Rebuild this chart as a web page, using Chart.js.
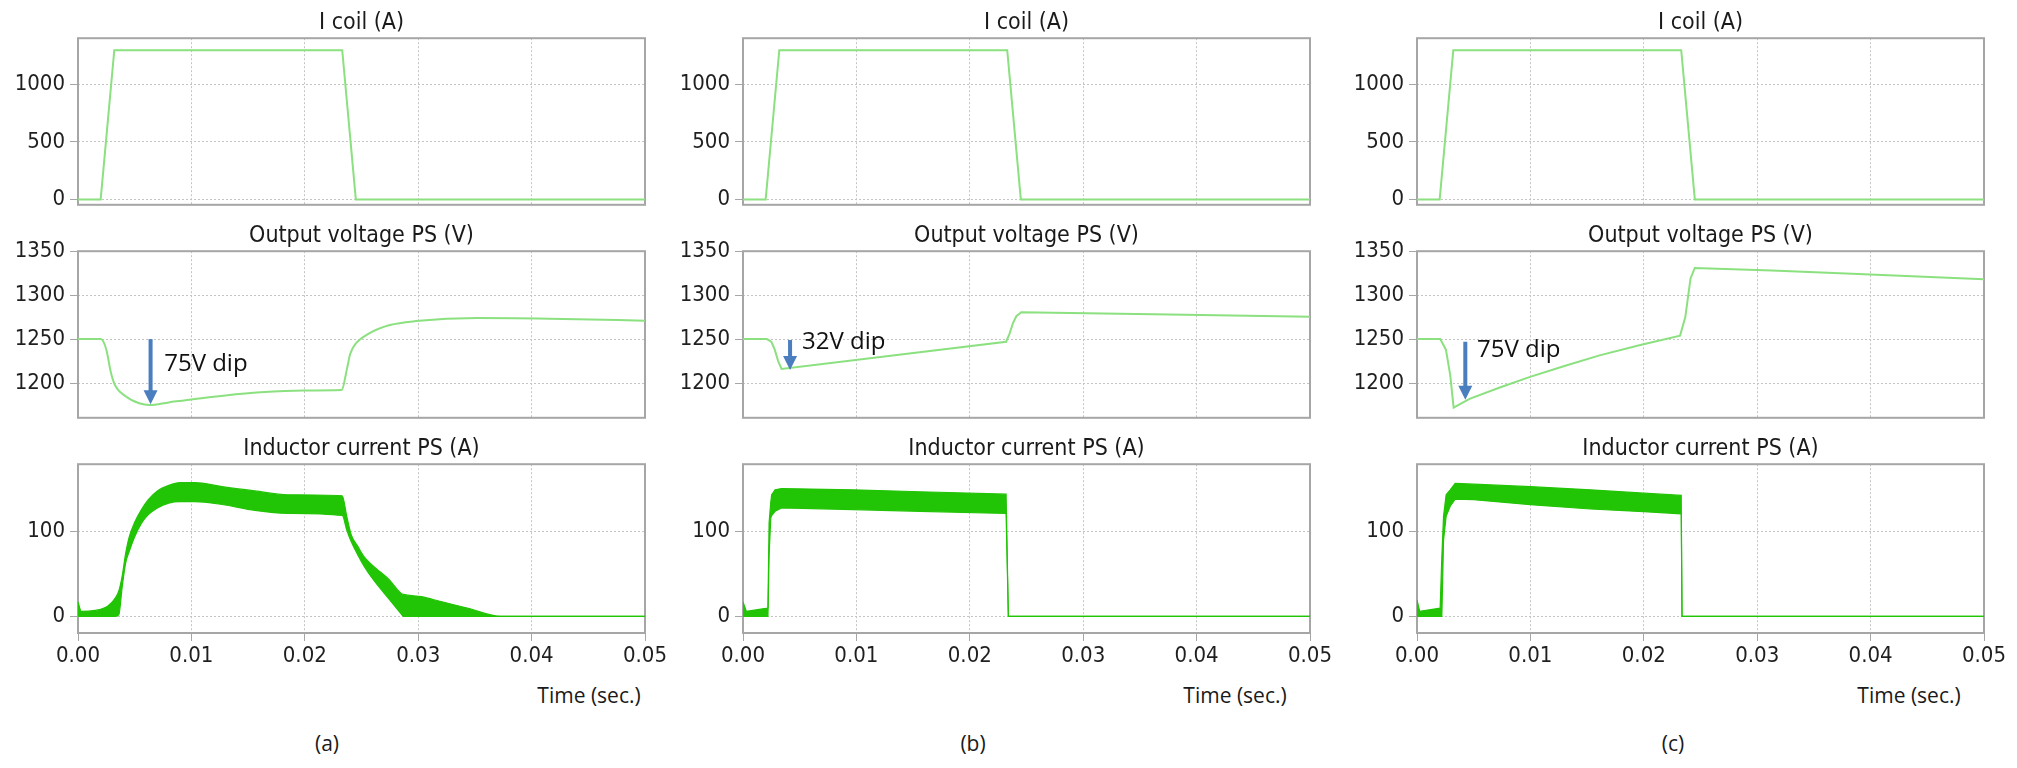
<!DOCTYPE html>
<html>
<head>
<meta charset="utf-8">
<script src="https://cdn.jsdelivr.net/npm/chart.js@4.4.1/dist/chart.umd.min.js"></script>
<style>
  html, body { margin: 0; padding: 0; background: #fff; }
  #stage { position: relative; width: 2017px; height: 768px; overflow: hidden; background: #fff; }
  #stage canvas { position: absolute; }
  .lbl { position: absolute; white-space: nowrap; transform: translate(-50%, -50%); color: #1a1a1a; }
  .ttl { font-size: 23px; font-family: "DejaVu Sans Condensed", "DejaVu Sans", sans-serif; }
  .cap { font-size: 21px; font-family: "Open Sans", sans-serif; }
</style>
</head>
<body>
<div id="stage"></div>
<script>
// ---- data ----
const timeTicks = [0, 0.01, 0.02, 0.03, 0.04, 0.05];
const coilTicks = [0, 500, 1000];
const voltTicks = [1200, 1250, 1300, 1350];
const indTicks = [0, 100];

const rowTitles = ['I coil (A)', 'Output voltage PS (V)', 'Inductor current PS (A)'];
const panelNames = ['(a)', '(b)', '(c)'];

// I coil: same pulse in all three cases
const coilT = [0, 0.002, 0.0032, 0.0233, 0.0245, 0.05];
const coilA = [0, 0, 1300, 1300, 0, 0];

// output voltage PS
const voltTA = [0, 0.002, 0.0025, 0.0029, 0.00325, 0.0042, 0.0054, 0.0063, 0.008, 0.0103, 0.013, 0.0161, 0.0199, 0.02325, 0.0237, 0.024, 0.0245, 0.0256, 0.0275, 0.0298, 0.0352, 0.0428, 0.05];
const voltVA = [1250, 1250, 1238, 1212, 1198, 1185, 1177, 1175, 1178, 1182, 1186, 1189.5, 1191.5, 1192, 1215, 1233, 1245, 1256, 1266, 1270.5, 1274, 1273, 1271];
const voltTB = [0, 0.0021, 0.0025, 0.0028, 0.0031, 0.0034, 0.0232, 0.0235, 0.0238, 0.0241, 0.02454, 0.0303, 0.0376, 0.05];
const voltVB = [1250, 1250, 1247, 1238, 1225, 1216, 1247, 1256, 1268, 1276, 1280.5, 1279.5, 1278, 1275.5];
const voltTC = [0, 0.00205, 0.00255, 0.00293, 0.00323, 0.00463, 0.0073, 0.00997, 0.013, 0.0161, 0.0196, 0.0232, 0.02366, 0.02412, 0.0245, 0.0313, 0.0389, 0.05];
const voltVC = [1250, 1250, 1238, 1209, 1172, 1182, 1195, 1207, 1219.5, 1231.5, 1243, 1254, 1275, 1319, 1331, 1328, 1324, 1318];

// inductor current PS: ripple band, upper and lower envelope
const indTA = [0, 0.0003, 0.0024, 0.0033, 0.0036, 0.0039, 0.0042, 0.0045, 0.005, 0.0056, 0.0062, 0.007, 0.008, 0.009, 0.0103, 0.0127, 0.0156, 0.0185, 0.0233, 0.0237, 0.0241, 0.0247, 0.0252, 0.0259, 0.0266, 0.0274, 0.0285, 0.0287, 0.0303, 0.032, 0.0344, 0.0373, 0.05];
const indHiA = [17, 6, 10.5, 22, 30, 48, 74, 93, 111, 126, 137.7, 148, 154.5, 157.8, 157.8, 153, 148, 143.5, 142.3, 118, 96, 82, 71, 61, 53, 44, 27.2, 26, 23.3, 17.5, 9.7, 0, 0];
const indLoA = [0, 0, 0, 0, 2, 35, 63, 76, 94, 110, 120, 128, 133.7, 135.3, 135.3, 132, 125, 121.5, 119, 102, 88, 72, 60, 46, 34, 21, 3, 0, 0, 0, 0, 0, 0];
const indTB = [0, 0.0003, 0.002, 0.0022, 0.0023, 0.00245, 0.00253, 0.00283, 0.0034, 0.0097, 0.0156, 0.0232, 0.0234, 0.05];
const indHiB = [17, 6, 9.5, 10, 110, 135, 143.5, 149.3, 150.8, 149.3, 147, 144.2, 0, 0];
const indLoB = [0, 0, 0, 0, 72, 116, 119, 124, 128, 126, 124, 121.4, 0, 0];
const indTC = [0, 0.00024, 0.00204, 0.00219, 0.00234, 0.00257, 0.00293, 0.00337, 0.005, 0.01, 0.0153, 0.02, 0.0233, 0.02337, 0.05];
const indHiC = [19.4, 6, 9.8, 70, 118, 143.5, 149.3, 157, 156, 153, 149.3, 145.3, 142.7, 0, 0];
const indLoC = [0, 0, 0, 0, 90, 118, 130, 138.4, 137.7, 131.8, 126.7, 123.5, 121, 0, 0];

// voltage dip arrows
const dipTime = [0.0064, 0.00415, 0.00426];
const dipFrom = [1250, 1249, 1247];
const dipTo = [1176, 1215, 1181];
const dipText = ['75V dip', '32V dip', '75V dip'];
const dipTextTime = [0.0076, 0.0052, 0.0053];
const dipTextVolt = [1222, 1246, 1238];

// ---- layout ----
const COL_LEFT = [78, 743, 1417];
const ROW_TOP = [36, 249, 462];
const PLOT_W = 567, PLOT_H = 171;
const YW = 75, PT = 16, PR = 30;
const X_AXIS_H = 37;

const LINE = '#8be07f';
const BAND = '#22c406';
const TICK_FONT = { family: '"DejaVu Sans Condensed", "DejaVu Sans", sans-serif', size: 22 };

const stage = document.getElementById('stage');

function pts(t, v) {
    return t.map((x, i) => ({ x: x, y: v[i] }));
}

const framePlugin = {
    id: 'frame',
    beforeDatasetsDraw(chart) {
        const { ctx, chartArea: a } = chart;
        ctx.save();
        ctx.strokeStyle = '#a6a6a6';
        ctx.lineWidth = 2;
        ctx.strokeRect(a.left, a.top, a.right - a.left, a.bottom - a.top);
        ctx.restore();
    }
};

const dipPlugin = {
    id: 'dip',
    afterDatasetsDraw(chart, args, opts) {
        if (!opts || opts.x === undefined) return;
        const ctx = chart.ctx, xs = chart.scales.x, ys = chart.scales.y;
        const px = xs.getPixelForValue(opts.x);
        const y0 = ys.getPixelForValue(opts.from), y1 = ys.getPixelForValue(opts.to);
        ctx.save();
        ctx.fillStyle = '#4a7ebf';
        ctx.fillRect(px - 2, y0, 4, y1 - y0 - 12);
        ctx.beginPath();
        ctx.moveTo(px - 7, y1 - 14);
        ctx.lineTo(px + 7, y1 - 14);
        ctx.lineTo(px, y1);
        ctx.closePath();
        ctx.fill();
        ctx.fillStyle = '#111';
        ctx.font = '24px "Open Sans", sans-serif';
        ctx.textBaseline = 'middle';
        ctx.fillText(opts.text, xs.getPixelForValue(opts.tx), ys.getPixelForValue(opts.ty));
        ctx.restore();
    }
};

function makeChart(col, row, datasets, yMin, yMax, yTicks, dip) {
    const last = row === 2;
    const cv = document.createElement('canvas');
    const w = YW + PLOT_W + PR;
    const h = PT + PLOT_H + (last ? X_AXIS_H + 4 : 16);
    cv.width = w; cv.height = h;
    cv.style.left = (COL_LEFT[col] - YW) + 'px';
    cv.style.top = (ROW_TOP[row] - PT) + 'px';
    stage.appendChild(cv);

    const plugins = [framePlugin];
    if (dip) plugins.push(dipPlugin);

    new Chart(cv, {
        type: 'line',
        data: { datasets: datasets },
        plugins: plugins,
        options: {
            responsive: false,
            animation: false,
            layout: { padding: { top: PT, right: PR, bottom: last ? 4 : 16, left: 0 } },
            plugins: {
                legend: { display: false },
                tooltip: { enabled: false },
                dip: dip || {}
            },
            elements: { point: { radius: 0 } },
            scales: {
                x: {
                    type: 'linear', min: 0, max: 0.05,
                    afterBuildTicks: s => { s.ticks = timeTicks.map(v => ({ value: v })); },
                    afterFit: s => { s.height = last ? X_AXIS_H : 0; },
                    grid: { color: '#c4c4c4', lineWidth: 1, drawTicks: last, tickLength: 8, tickColor: '#a6a6a6', tickBorderDash: [] },
                    border: { display: false, dash: [2, 2] },
                    ticks: {
                        display: last, padding: 2, maxRotation: 0, autoSkip: false,
                        font: TICK_FONT, color: '#1f1f1f',
                        callback: v => Number(v).toFixed(2)
                    }
                },
                y: {
                    type: 'linear', min: yMin, max: yMax,
                    afterBuildTicks: s => { s.ticks = yTicks.map(v => ({ value: v })); },
                    afterFit: s => { s.width = YW; },
                    grid: { color: '#c4c4c4', lineWidth: 1, drawTicks: true, tickLength: 8, tickColor: '#a6a6a6', tickBorderDash: [] },
                    border: { display: false, dash: [2, 2] },
                    ticks: { padding: 5, font: TICK_FONT, color: '#1f1f1f', callback: v => String(v) }
                }
            }
        }
    });
}

function lineSet(t, v, smooth) {
    return { data: pts(t, v), borderColor: LINE, borderWidth: 2, fill: false,
             cubicInterpolationMode: smooth ? 'monotone' : 'default', tension: 0 };
}

function bandSets(t, hi, lo, smooth) {
    const mode = smooth ? 'monotone' : 'default';
    return [
        { data: pts(t, hi), borderColor: BAND, borderWidth: 1.2, backgroundColor: BAND, fill: '+1',
          cubicInterpolationMode: mode, tension: 0 },
        { data: pts(t, lo), borderColor: BAND, borderWidth: 1.2, fill: false,
          cubicInterpolationMode: mode, tension: 0 }
    ];
}

const voltSeries = [[voltTA, voltVA], [voltTB, voltVB], [voltTC, voltVC]];
const indSeries = [[indTA, indHiA, indLoA], [indTB, indHiB, indLoB], [indTC, indHiC, indLoC]];

for (let c = 0; c < 3; c++) {
    makeChart(c, 0, [lineSet(coilT, coilA, false)], -47, 1404, coilTicks, null);
    makeChart(c, 1, [lineSet(voltSeries[c][0], voltSeries[c][1], c === 0)], 1160.5, 1350, voltTicks, {
        x: dipTime[c], from: dipFrom[c], to: dipTo[c],
        text: dipText[c], tx: dipTextTime[c], ty: dipTextVolt[c]
    });
    makeChart(c, 2, bandSets(indSeries[c][0], indSeries[c][1], indSeries[c][2], c === 0), -19.5, 179.5, indTicks, null);
}

// ---- text ----
function addLabel(text, cls, x, y) {
    const d = document.createElement('div');
    d.className = 'lbl ' + cls;
    d.textContent = text;
    d.style.left = x + 'px';
    d.style.top = y + 'px';
    stage.appendChild(d);
}

const timeLabelX = [589, 1235, 1909];
const panelLabelX = [327, 973, 1673];
for (let c = 0; c < 3; c++) {
    for (let r = 0; r < 3; r++) {
        addLabel(rowTitles[r], 'ttl', COL_LEFT[c] + PLOT_W / 2, ROW_TOP[r] - 15);
    }
    addLabel('Time (sec.)', 'cap', timeLabelX[c], 695);
    addLabel(panelNames[c], 'cap', panelLabelX[c], 743);
}
</script>
</body>
</html>
